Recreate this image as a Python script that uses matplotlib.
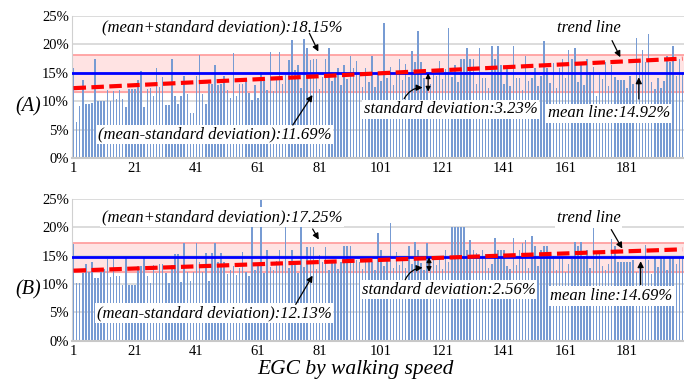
import matplotlib; matplotlib.use("Agg")
import matplotlib.pyplot as plt
import numpy as np

# bar heights (%), one per EGC sample
vals_a = [15.8, 6.4, 9.2, 13.7, 9.6, 9.6, 9.7, 17.4, 10.0, 10.1,
          10.1, 11.9, 10.1, 11.8, 10.4, 11.9, 10.4, 9.0, 12.2, 12.2,
          12.2, 13.7, 15.3, 9.0, 12.2, 12.3, 11.0, 15.8, 12.5, 14.2,
          9.3, 9.3, 17.4, 11.0, 9.5, 11.0, 14.4, 11.3, 7.9, 7.9,
          14.5, 18.1, 11.2, 9.6, 13.1, 13.1, 16.3, 12.9, 13.1, 14.5,
          12.0, 10.5, 18.4, 11.0, 13.1, 13.1, 13.5, 11.5, 10.2, 12.8,
          10.6, 15.2, 13.5, 12.0, 18.6, 11.8, 14.0, 18.6, 13.0, 14.6,
          17.2, 20.7, 15.5, 16.3, 12.4, 21.0, 19.3, 17.2, 17.5, 17.5,
          12.1, 14.2, 17.5, 19.3, 13.6, 14.4, 15.8, 12.8, 16.4, 13.9,
          18.0, 15.8, 17.0, 14.6, 12.5, 15.8, 13.4, 18.0, 12.5, 14.8,
          13.6, 23.8, 14.1, 16.0, 12.9, 14.7, 17.5, 13.8, 16.6, 14.3,
          18.8, 16.9, 22.3, 16.9, 14.1, 12.6, 13.1, 15.0, 14.4, 17.1,
          13.9, 15.6, 22.8, 14.2, 16.4, 13.3, 17.4, 17.4, 19.3, 17.4,
          17.4, 13.0, 19.3, 14.0, 14.0, 12.3, 19.7, 17.4, 19.7, 16.4,
          13.1, 15.8, 12.7, 19.7, 14.0, 14.0, 11.9, 18.0, 13.5, 14.0,
          15.8, 12.6, 14.5, 20.6, 15.8, 13.2, 16.7, 12.4, 15.8, 17.4,
          14.0, 19.0, 17.5, 19.3, 13.3, 16.9, 12.8, 17.5, 15.2, 16.1,
          10.9, 15.2, 13.9, 16.9, 12.6, 16.4, 14.2, 13.7, 13.7, 13.7,
          12.4, 14.5, 13.0, 21.2, 16.9, 19.0, 16.9, 21.8, 13.4, 12.1,
          14.0, 12.3, 13.6, 18.0, 16.9, 19.8, 14.4, 17.5, 15.2]
vals_b = [17.1, 10.1, 10.1, 11.9, 13.5, 12.2, 13.8, 11.0, 11.0, 12.2,
          12.6, 14.4, 11.3, 14.4, 11.4, 11.4, 9.8, 14.7, 9.9, 9.9,
          9.9, 13.1, 13.1, 14.7, 11.4, 10.1, 13.4, 11.9, 13.5, 13.5,
          11.9, 10.1, 13.4, 15.3, 15.3, 10.4, 17.3, 12.2, 10.5, 12.2,
          17.3, 13.9, 12.2, 15.4, 10.5, 15.5, 17.3, 13.9, 15.4, 13.9,
          11.8, 12.5, 13.2, 11.6, 12.9, 15.7, 12.2, 11.4, 20.2, 12.5,
          13.3, 24.7, 12.0, 15.9, 13.0, 12.5, 14.1, 15.9, 13.4, 20.2,
          12.8, 15.9, 13.7, 11.9, 20.2, 13.0, 16.5, 16.5, 16.5, 12.6,
          15.1, 13.8, 16.5, 12.4, 14.0, 14.3, 12.7, 13.8, 16.6, 16.7,
          16.7, 13.9, 14.3, 13.9, 12.6, 13.9, 14.6, 13.9, 12.5, 18.9,
          15.9, 13.2, 14.6, 20.8, 12.9, 15.7, 13.4, 14.4, 12.8, 16.6,
          13.6, 17.4, 15.9, 13.7, 12.4, 17.2, 14.1, 14.7, 13.3, 14.7,
          12.6, 15.9, 13.8, 20.0, 20.0, 20.0, 20.0, 20.0, 15.9, 17.8,
          15.9, 15.5, 14.6, 15.9, 15.3, 12.9, 13.6, 18.1, 16.0, 16.0,
          16.0, 13.1, 12.6, 18.1, 13.4, 15.9, 17.3, 17.8, 12.8, 18.5,
          16.6, 13.2, 15.9, 16.6, 16.6, 15.0, 15.0, 12.4, 14.8, 14.8,
          12.2, 13.5, 14.4, 17.4, 16.6, 17.4, 15.0, 15.9, 12.8, 20.2,
          15.4, 15.7, 13.1, 12.5, 13.6, 18.0, 16.6, 13.9, 13.9, 13.9,
          13.9, 13.9, 14.3, 12.2, 13.1, 12.7, 16.8, 14.3, 11.8, 14.6,
          13.0, 14.6, 14.6, 12.4, 14.8, 14.8, 13.5, 14.8, 14.7]

mean_a, sd_a = 14.92, 3.23
mean_b, sd_b = 14.69, 2.56
trend_a = (12.3, 17.5)   # trend line value at first / last sample
trend_b = (12.35, 16.1)
panel_labels = ["(A)", "(B)"]
xtick_vals = list(range(1, 182, 20))

SERIF = ["Liberation Serif", "DejaVu Serif"]
plt.rcParams["font.family"] = SERIF

fig = plt.figure(figsize=(6.84, 3.8), dpi=100)
ax_a = fig.add_axes([0.105, 0.584, 0.895, 0.374])
ax_b = fig.add_axes([0.105, 0.103, 0.895, 0.374])

def panel(ax, vals, mean, sd, trend, label, ann):
    n = len(vals)
    x = np.arange(1, n + 1)
    ax.axhspan(mean - sd, mean + sd, color="#ffe3e3", zorder=0)
    for v in (mean - sd, mean + sd):
        ax.axhline(v, color="#ff9a9a", lw=1.2, zorder=1)
    ax.bar(x, vals, width=0.5, color="#779bd3", zorder=2)
    ax.axhline(mean, color="#0000ff", lw=2, zorder=4)
    ax.plot([1, n], list(trend), color="#ff0000", lw=3, ls=(0, (3, 1.3)), zorder=5)
    ax.set_xlim(0.45, n + 0.5)
    ax.set_ylim(0, 25)
    ax.set_yticks(range(0, 26, 5))
    ax.set_yticklabels([f"{t}%" for t in range(0, 26, 5)], fontsize=10.5)
    ax.set_xticks(xtick_vals)
    ax.set_xticklabels([str(t) for t in xtick_vals], fontsize=10.5)
    ax.tick_params(length=0, pad=2)
    ax.tick_params(axis="x", pad=3)
    ax.grid(axis="y", color="#d9d9d9", lw=1.3, zorder=0)
    ax.set_axisbelow(True)
    for sp in ["top", "right"]:
        ax.spines[sp].set_visible(False)
    ax.spines["left"].set_color("#d0d0d0")
    ax.spines["bottom"].set_color("#c8c8c8")
    ax.spines["bottom"].set_linewidth(1.5)
    ax.text(-0.092, 0.36, label, transform=ax.transAxes, fontsize=14.5,
            style="italic", ha="left", va="center")

    box = dict(facecolor="white", edgecolor="none", pad=1.2)
    akw = dict(arrowstyle="-|>", color="black", lw=0.9, mutation_scale=9)
    tkw = dict(fontsize=12, style="italic", ha="center", va="center", bbox=box, zorder=6)
    (up_txt, up_tail, up_head, lo_txt, lo_tail, lo_head, sd_txt, sd_tail,
     sd_head, sd_x, tr_txt, tr_tail, tr_head, mn_txt, mn_tail, mn_head) = ann
    ax.text(*up_txt, f"(mean+standard deviation):{mean + sd:.2f}%", **tkw)
    ax.annotate("", xy=up_head, xytext=up_tail, arrowprops=akw, zorder=7)
    ax.text(*lo_txt, f"(mean-standard deviation):{mean - sd:.2f}%", **tkw)
    ax.annotate("", xy=lo_head, xytext=lo_tail, arrowprops=akw, zorder=7)
    ax.text(*sd_txt, f"standard deviation:{sd:.2f}%", **tkw)
    ax.annotate("", xy=sd_head, xytext=sd_tail, zorder=7,
                arrowprops=dict(akw, connectionstyle="arc3,rad=-0.35"))
    ax.annotate("", xy=(sd_x, mean), xytext=(sd_x, mean - sd), zorder=7,
                arrowprops=dict(arrowstyle="<|-|>", color="black", lw=0.9,
                                mutation_scale=7, shrinkA=0, shrinkB=0))
    ax.text(*tr_txt, "trend line", **tkw)
    ax.annotate("", xy=tr_head, xytext=tr_tail, arrowprops=akw, zorder=7)
    ax.text(*mn_txt, f"mean line:{mean:.2f}%", **tkw)
    ax.annotate("", xy=mn_head, xytext=mn_tail, arrowprops=akw, zorder=7)

panel(ax_a, vals_a, mean_a, sd_a, trend_a, panel_labels[0],
      [(49.4, 23.0), (77.3, 22.4), (81.0, 18.3),
       (46.8, 4.1), (71.8, 5.4), (79.2, 11.5),
       (123.7, 8.6), (108.1, 10.0), (115.4, 12.4), 116.3,
       (168.5, 22.9), (175.7, 21.1), (179.2, 17.3),
       (175.0, 7.9), (184.8, 9.9), (184.8, 14.7)])
panel(ax_b, vals_b, mean_b, sd_b, trend_b, panel_labels[1],
      [(49.4, 21.8), (78.3, 20.1), (81.2, 17.4),
       (46.8, 4.9), (72.8, 6.0), (79.2, 11.9),
       (123.0, 9.0), (108.5, 10.3), (115.4, 12.9), 116.6,
       (168.5, 21.6), (175.4, 20.0), (179.9, 15.8),
       (175.7, 7.9), (185.4, 9.4), (185.4, 14.5)])

fig.text(0.52, 0.027, "EGC by walking speed", fontsize=15.5, style="italic",
         ha="center", va="center")

fig.savefig("out.png", dpi=100, facecolor="white")
